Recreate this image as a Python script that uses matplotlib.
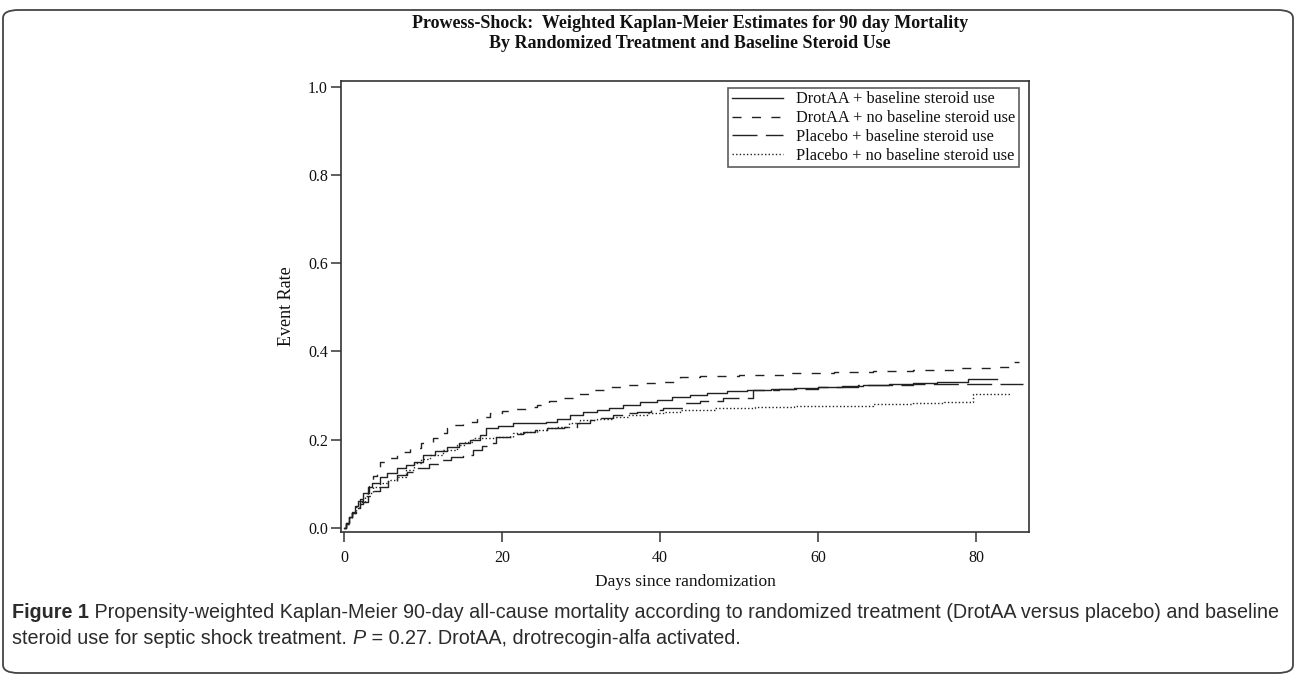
import matplotlib
matplotlib.use("Agg")
import matplotlib.pyplot as plt
from matplotlib.patches import FancyBboxPatch

# data (days, cumulative event rate)
drot_ster_t = [0, 0.3, 0.6, 1.0, 1.4, 1.8, 2.4, 3.0, 3.6, 4.6, 5.5, 6.7, 7.8, 8.8, 10.0, 11.5, 13.0,
               14.5, 16.0, 17.2, 18.0, 19.5, 21.4, 23.5, 25.6, 27.0, 28.6, 30.3, 32.0, 33.6, 35.3,
               37.5, 39.6, 41.5, 43.8, 46.0, 48.5, 51.0, 54.0, 57.0, 60.0, 63.0, 65.7, 69.0, 72.0,
               75.0, 79.0, 82.6]
drot_ster_y = [0, 0.012, 0.025, 0.037, 0.05, 0.062, 0.079, 0.092, 0.102, 0.115, 0.124, 0.135, 0.142,
               0.150, 0.165, 0.175, 0.184, 0.192, 0.199, 0.210, 0.226, 0.232, 0.237, 0.239, 0.241,
               0.248, 0.256, 0.262, 0.267, 0.273, 0.279, 0.285, 0.290, 0.296, 0.301, 0.306, 0.311,
               0.313, 0.315, 0.317, 0.319, 0.322, 0.324, 0.327, 0.329, 0.331, 0.338, 0.338]

drot_nost_t = [0, 0.3, 0.6, 1.0, 1.5, 2.0, 2.6, 3.2, 3.7, 4.2, 4.6, 5.6, 6.7, 7.5, 8.4, 9.8, 11.3,
               12.2, 13.0, 14.0, 15.1, 16.8, 18.5, 20.0, 21.4, 23.0, 24.4, 26.0, 27.8, 29.5, 31.1,
               33.0, 35.3, 38.0, 40.4, 42.5, 45.0, 50.0, 56.5, 62.0, 67.0, 72.0, 78.0, 82.0, 84.7, 85.4]
drot_nost_y = [0, 0.01, 0.02, 0.035, 0.05, 0.065, 0.08, 0.095, 0.118, 0.131, 0.150, 0.158, 0.165,
               0.173, 0.181, 0.192, 0.204, 0.215, 0.227, 0.234, 0.241, 0.251, 0.260, 0.265, 0.270,
               0.275, 0.279, 0.287, 0.294, 0.303, 0.313, 0.319, 0.324, 0.328, 0.331, 0.342, 0.344,
               0.346, 0.352, 0.354, 0.356, 0.358, 0.363, 0.366, 0.376, 0.376]

plac_ster_t = [0, 0.3, 0.6, 1.0, 1.5, 2.0, 2.4, 3.0, 3.6, 4.6, 5.6, 6.7, 8.0, 9.2, 10.7, 12.2, 13.6,
               15.1, 16.3, 17.5, 18.5, 19.3, 21.0, 22.7, 24.2, 25.7, 27.8, 29.5, 31.1, 32.5, 34.0,
               35.5, 37.1, 38.8, 40.4, 42.9, 45.0, 48.0, 51.8, 55.0, 60.0, 65.0, 72.0, 86.0]
plac_ster_y = [0, 0.012, 0.025, 0.035, 0.045, 0.055, 0.06, 0.072, 0.083, 0.094, 0.107, 0.120, 0.128,
               0.136, 0.145, 0.154, 0.160, 0.165, 0.177, 0.185, 0.193, 0.207, 0.212, 0.218, 0.222,
               0.226, 0.230, 0.238, 0.245, 0.250, 0.256, 0.260, 0.264, 0.268, 0.272, 0.283, 0.288,
               0.295, 0.313, 0.316, 0.320, 0.323, 0.327, 0.327]

plac_nost_t = [0, 0.3, 0.6, 1.0, 1.5, 2.0, 2.6, 3.0, 3.7, 4.6, 5.6, 6.7, 7.8, 8.8, 9.8, 10.9, 12.5,
               14.3, 15.3, 16.3, 17.8, 19.3, 21.4, 22.9, 24.4, 25.7, 27.0, 28.5, 29.9, 32.0, 34.0,
               36.0, 38.4, 40.5, 42.5, 47.0, 52.0, 57.0, 62.0, 67.0, 72.0, 76.0, 79.6, 84.3]
plac_nost_y = [0, 0.01, 0.022, 0.035, 0.048, 0.06, 0.072, 0.08, 0.094, 0.102, 0.109, 0.116, 0.132,
               0.147, 0.156, 0.165, 0.177, 0.188, 0.196, 0.203, 0.205, 0.207, 0.215, 0.218, 0.222,
               0.226, 0.230, 0.238, 0.245, 0.248, 0.252, 0.256, 0.260, 0.264, 0.267, 0.272, 0.274,
               0.276, 0.277, 0.280, 0.283, 0.286, 0.303, 0.303]

labels = ["DrotAA + baseline steroid use", "DrotAA + no baseline steroid use",
          "Placebo + baseline steroid use", "Placebo + no baseline steroid use"]
xticks = [0, 20, 40, 60, 80]
yticks = [0.0, 0.2, 0.4, 0.6, 0.8, 1.0]

serif = "Liberation Serif"
cap_font = "Liberation Sans"
ink = "#222222"

fig = plt.figure(figsize=(12.96, 6.78), dpi=100)
ax = fig.add_axes([341 / 1296, 1 - 532 / 678, (1029 - 341) / 1296, (532 - 80.7) / 678])

styles = [dict(ls="-"), dict(ls=(0, (6.5, 7.5))), dict(ls=(0, (18, 6))), dict(ls=(0, (1, 1.6)))]
series = [(drot_ster_t, drot_ster_y), (drot_nost_t, drot_nost_y),
          (plac_ster_t, plac_ster_y), (plac_nost_t, plac_nost_y)]
for (t, y), st, lab in zip(series, styles, labels):
    ax.step(t, y, where="post", color=ink, lw=1.0, label=lab, **st)

ax.set_xlim(-0.38, 86.7)
ax.set_ylim(-0.009, 1.0136)
ax.set_xticks(xticks)
ax.set_yticks(yticks)
ax.set_yticklabels([f"{v:.1f}" for v in yticks])
ax.tick_params(direction="out", length=7, width=1.1, color="#333333", labelsize=11.5,
               labelcolor="#111111")
ax.tick_params(axis="x", pad=6)
ax.tick_params(axis="y", pad=2.5)
for lab in ax.get_xticklabels() + ax.get_yticklabels():
    lab.set_fontfamily(serif)
for sp in ax.spines.values():
    sp.set_linewidth(1.2)
    sp.set_color("#333333")

ax.set_xlabel("Days since randomization", family=serif, fontsize=12.5, labelpad=6, color="#111111")
ax.set_ylabel("Event Rate", family=serif, fontsize=13, labelpad=9, color="#111111")

leg = ax.legend(loc="upper right", bbox_to_anchor=(0.9855, 0.9838), prop={"family": serif, "size": 11.8},
                frameon=True, fancybox=False, edgecolor="#333333", handlelength=3.1,
                handletextpad=0.85, borderpad=0.2, labelspacing=0.18, borderaxespad=0)
leg.get_frame().set_linewidth(1.2)
for txt in leg.get_texts():
    txt.set_color("#111111")

fig.text(690 / 1296, 1 - 23 / 678, "Prowess-Shock:  Weighted Kaplan-Meier Estimates for 90 day Mortality",
         ha="center", va="center", family=serif, weight="bold", fontsize=13, color="#111111")
fig.text(690 / 1296, 1 - 44 / 678, "By Randomized Treatment and Baseline Steroid Use",
         ha="center", va="center", family=serif, weight="bold", fontsize=13, color="#111111")

# caption with mixed styles
fig.canvas.draw()
r = fig.canvas.get_renderer()


def chain(parts, x, y):
    for s, kw in parts:
        t = fig.text(x, y, s, ha="left", va="center", family=cap_font, fontsize=14.2, color="#2b2b2b", **kw)
        bb = t.get_window_extent(renderer=r)
        x = bb.x1 / fig.bbox.width


chain([("Figure 1", dict(weight="bold")),
       (" Propensity-weighted Kaplan-Meier 90-day all-cause mortality according to randomized treatment "
        "(DrotAA versus placebo) and baseline", {})], 12 / 1296, 1 - 612 / 678)
chain([("steroid use for septic shock treatment. ", {}), ("P", dict(style="italic")),
       (" = 0.27. DrotAA, drotrecogin-alfa activated.", {})], 12 / 1296, 1 - 638 / 678)

box = FancyBboxPatch((3 / 1296, 1 - 673 / 678), 1290 / 1296, 663 / 678,
                     boxstyle="round,pad=0,rounding_size=0.012", transform=fig.transFigure,
                     fill=False, edgecolor="#444444", lw=1.3)
fig.patches.append(box)

fig.savefig("out.png", dpi=100)
